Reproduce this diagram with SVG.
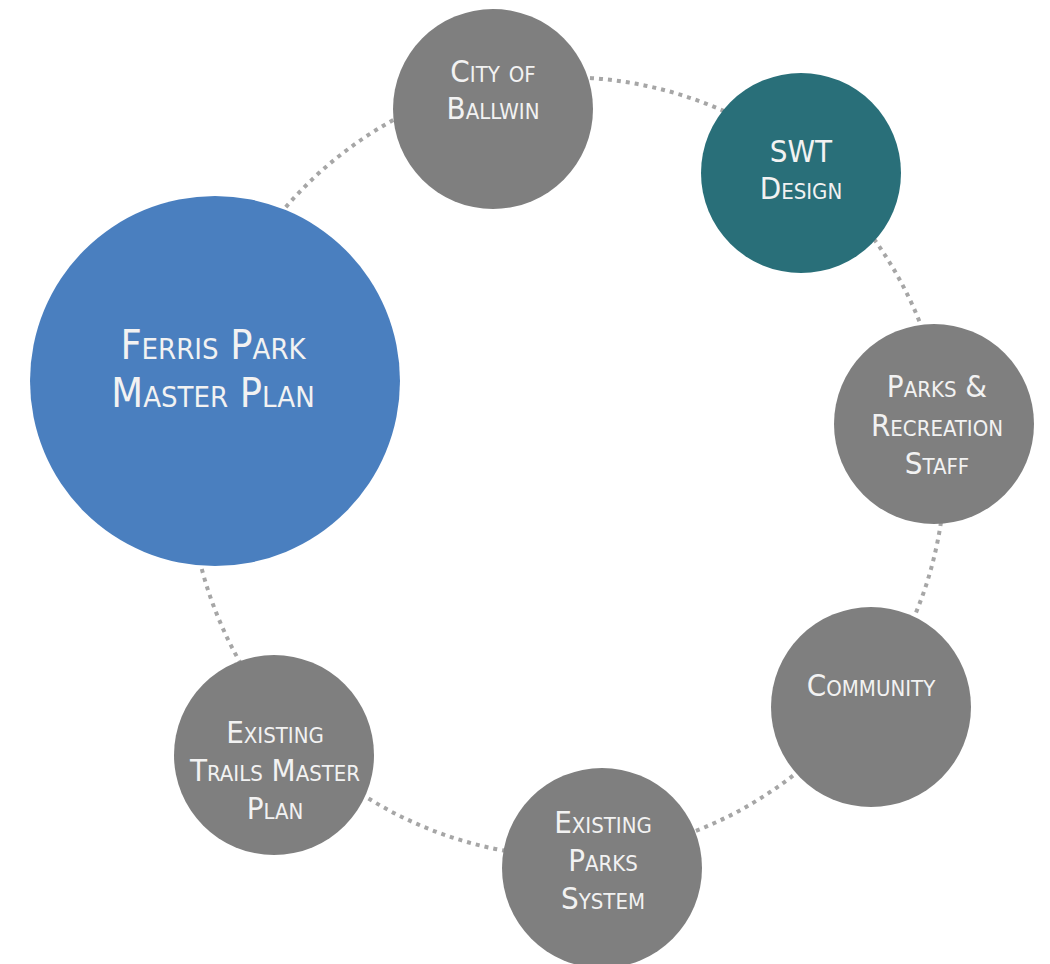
<svg xmlns="http://www.w3.org/2000/svg" width="1050" height="964" viewBox="0 0 1050 964">
<style>
.bg{fill:#ffffff}
.conn{fill:none;stroke:#a6a6a6;stroke-width:4;stroke-dasharray:4 5}
.gray{fill:#7f7f7f}
.blue{fill:#4a7fbf}
.teal{fill:#296f79}
.lbl{font-family:"Liberation Sans Narrow","DejaVu Sans Condensed","Liberation Sans",sans-serif;font-variant:small-caps;fill:#f2f2f2;text-anchor:middle;font-size:31px}
.big{font-size:41px}
</style>
<rect class="bg" x="0" y="0" width="1050" height="964"/>
<g id="connectors">
<path class="conn" d="M 280 214 A 390 390 0 0 1 397 118"/>
<path class="conn" d="M 590 78 A 390 390 0 0 1 726 112"/>
<path class="conn" d="M 874 239 A 390 390 0 0 1 922 328"/>
<path class="conn" d="M 941 522 A 390 390 0 0 1 915 615"/>
<path class="conn" d="M 800 770 A 390 390 0 0 1 693 832"/>
<path class="conn" d="M 506 851 A 390 390 0 0 1 363 795"/>
<path class="conn" d="M 241 664 A 390 390 0 0 1 200 562"/>
</g>
<g id="ferris">
<circle class="blue" cx="215" cy="381" r="185"/>
<text class="lbl big" x="213" y="359">Ferris Park</text>
<text class="lbl big" x="213" y="407">Master Plan</text>
</g>
<g id="ballwin">
<circle class="gray" cx="493" cy="109" r="100"/>
<text class="lbl" x="493" y="82">City of</text>
<text class="lbl" x="493" y="119">Ballwin</text>
</g>
<g id="swt">
<circle class="teal" cx="801" cy="173" r="100"/>
<text class="lbl" x="801" y="162">SWT</text>
<text class="lbl" x="801" y="199">Design</text>
</g>
<g id="parks-rec">
<circle class="gray" cx="934" cy="424" r="100"/>
<text class="lbl" x="937" y="397">Parks &amp;</text>
<text class="lbl" x="937" y="436">Recreation</text>
<text class="lbl" x="937" y="474">Staff</text>
</g>
<g id="community">
<circle class="gray" cx="871" cy="707" r="100"/>
<text class="lbl" x="871" y="696">Community</text>
</g>
<g id="existing-parks">
<circle class="gray" cx="602" cy="868" r="100"/>
<text class="lbl" x="603" y="833">Existing</text>
<text class="lbl" x="603" y="871">Parks</text>
<text class="lbl" x="603" y="909">System</text>
</g>
<g id="trails">
<circle class="gray" cx="274" cy="755" r="100"/>
<text class="lbl" x="275" y="743">Existing</text>
<text class="lbl" x="275" y="781">Trails Master</text>
<text class="lbl" x="275" y="819">Plan</text>
</g>
</svg>
